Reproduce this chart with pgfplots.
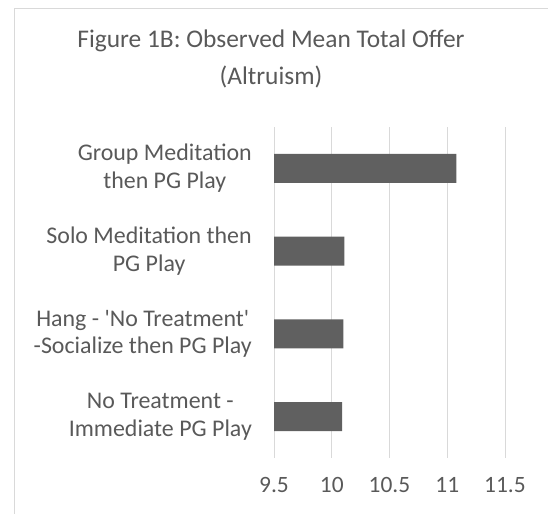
\documentclass[border=0pt]{standalone}
\usepackage{fontspec}
\setmainfont{Carlito}
\usepackage{pgfplots}
\pgfplotsset{compat=1.18}
\definecolor{txt}{HTML}{595959}
\definecolor{barc}{HTML}{606060}
\definecolor{gridc}{HTML}{D9D9D9}
\begin{document}
\begin{tikzpicture}
\useasboundingbox (0,0) rectangle (548bp,514bp);
% chart area border (runs off the right and bottom edges)
\draw[gridc, line width=1bp] (14bp,-20bp) -- (14bp,505bp) -- (570bp,505bp);
% title
\node[anchor=base, text=txt, font=\fontsize{25.5}{31}\selectfont, inner sep=0pt]
  at (271bp,466bp) {Figure 1B: Observed Mean Total Offer};
\node[anchor=base, text=txt, font=\fontsize{25.5}{31}\selectfont, inner sep=0pt]
  at (271bp,429bp) {(Altruism)};
\begin{axis}[
    at={(274bp,56bp)}, anchor=south west,
    scale only axis,
    width=231bp, height=331bp,
    xbar, bar width=29bp,
    xmin=9.5, xmax=11.5,
    ymin=-0.5, ymax=3.5,
    xtick={9.5,10,10.5,11,11.5},
    ytick={0,1,2,3},
    yticklabels={No Treatment -\\Immediate PG Play,
                 Hang - \textquotesingle No Treatment\textquotesingle\\-Socialize then PG Play,
                 Solo Meditation then\\PG Play,
                 Group Meditation\\then PG Play},
    axis line style={draw=none},
    major tick length=0pt,
    xmajorgrids,
    grid style={gridc, line width=1bp},
    /pgf/number format/assume math mode=true,
    xticklabel style={text=txt, font=\fontsize{23.5}{28}\selectfont, inner sep=0pt, yshift=-19bp},
    yticklabel style={text=txt, font=\fontsize{24}{28}\selectfont, align=center, anchor=east, inner sep=0pt, xshift=-22bp},
]
\addplot[fill=barc, draw=none] coordinates {
    (10.09,0)
    (10.10,1)
    (10.11,2)
    (11.08,3)
};
\end{axis}
\end{tikzpicture}
\end{document}
